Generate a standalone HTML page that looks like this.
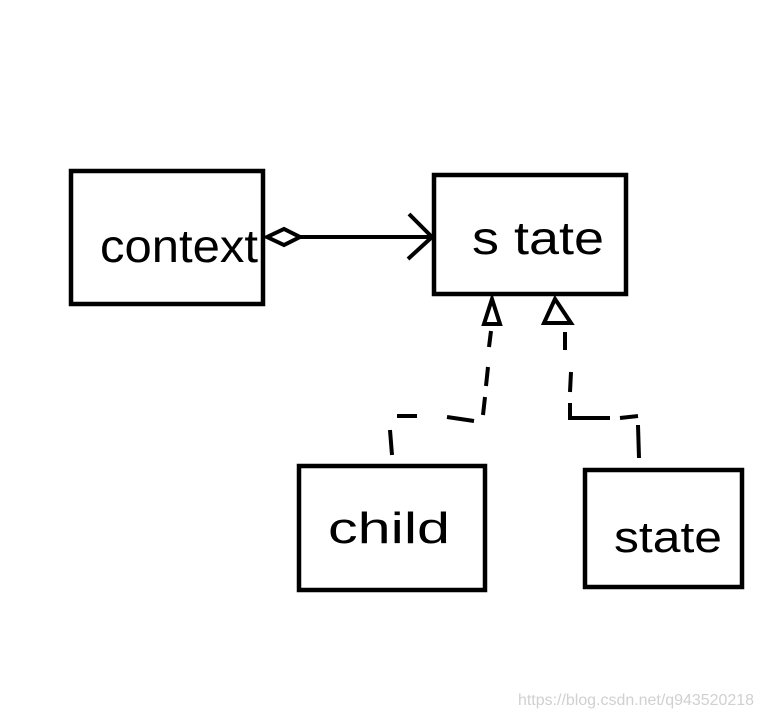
<!DOCTYPE html>
<html><head><meta charset="utf-8"><style>
html,body{margin:0;padding:0;background:#fff;}
svg{display:block;}
text{font-family:"Liberation Sans",sans-serif;fill:#000;}
</style></head><body>
<svg width="762" height="718" viewBox="0 0 762 718" xmlns="http://www.w3.org/2000/svg">
<g fill="none" stroke="#000" stroke-width="4.5">
<rect x="71" y="171" width="192" height="133"/>
<rect x="434" y="175" width="192" height="119"/>
<rect x="299" y="466" width="186" height="124"/>
<rect x="585" y="470" width="157" height="117"/>
</g>
<g fill="none" stroke="#000" stroke-width="4" stroke-linecap="butt">
<polygon points="267,237 284,229 300,237 284,245"/>
<line x1="300" y1="237" x2="432" y2="237"/>
<polyline points="409,214 432,237 408,259"/>
<polygon points="492,299 484,324 500,324"/>
<polygon points="555,299 544,323 571,323"/>
<line x1="491" y1="331" x2="489" y2="347"/>
<line x1="488" y1="367" x2="486" y2="386"/>
<line x1="485" y1="397" x2="483" y2="415"/>
<line x1="397" y1="416" x2="417" y2="416"/>
<line x1="447" y1="417" x2="474" y2="421"/>
<line x1="390" y1="430" x2="392" y2="455"/>
<line x1="565" y1="332" x2="565" y2="350"/>
<line x1="571" y1="372" x2="570" y2="392"/>
<polyline points="570,403 570,418 610,418"/>
<line x1="620" y1="418" x2="638" y2="416"/>
<line x1="638" y1="425" x2="639" y2="458"/>
</g>
<g style="font-weight:normal">
<text x="100" y="262" font-size="46" textLength="158" lengthAdjust="spacingAndGlyphs" transform="translate(0,0)">context</text>
<text x="472" y="254" font-size="46" textLength="132" lengthAdjust="spacingAndGlyphs">s tate</text>
<text x="328" y="543" font-size="44" textLength="122" lengthAdjust="spacingAndGlyphs">child</text>
<text x="614" y="552" font-size="44" textLength="108" lengthAdjust="spacingAndGlyphs">state</text>
</g>
<text x="518" y="705" font-size="16" textLength="236" lengthAdjust="spacingAndGlyphs" style="fill:#d0d0d0">https://blog.csdn.net/q943520218</text>
</svg>
</body></html>
